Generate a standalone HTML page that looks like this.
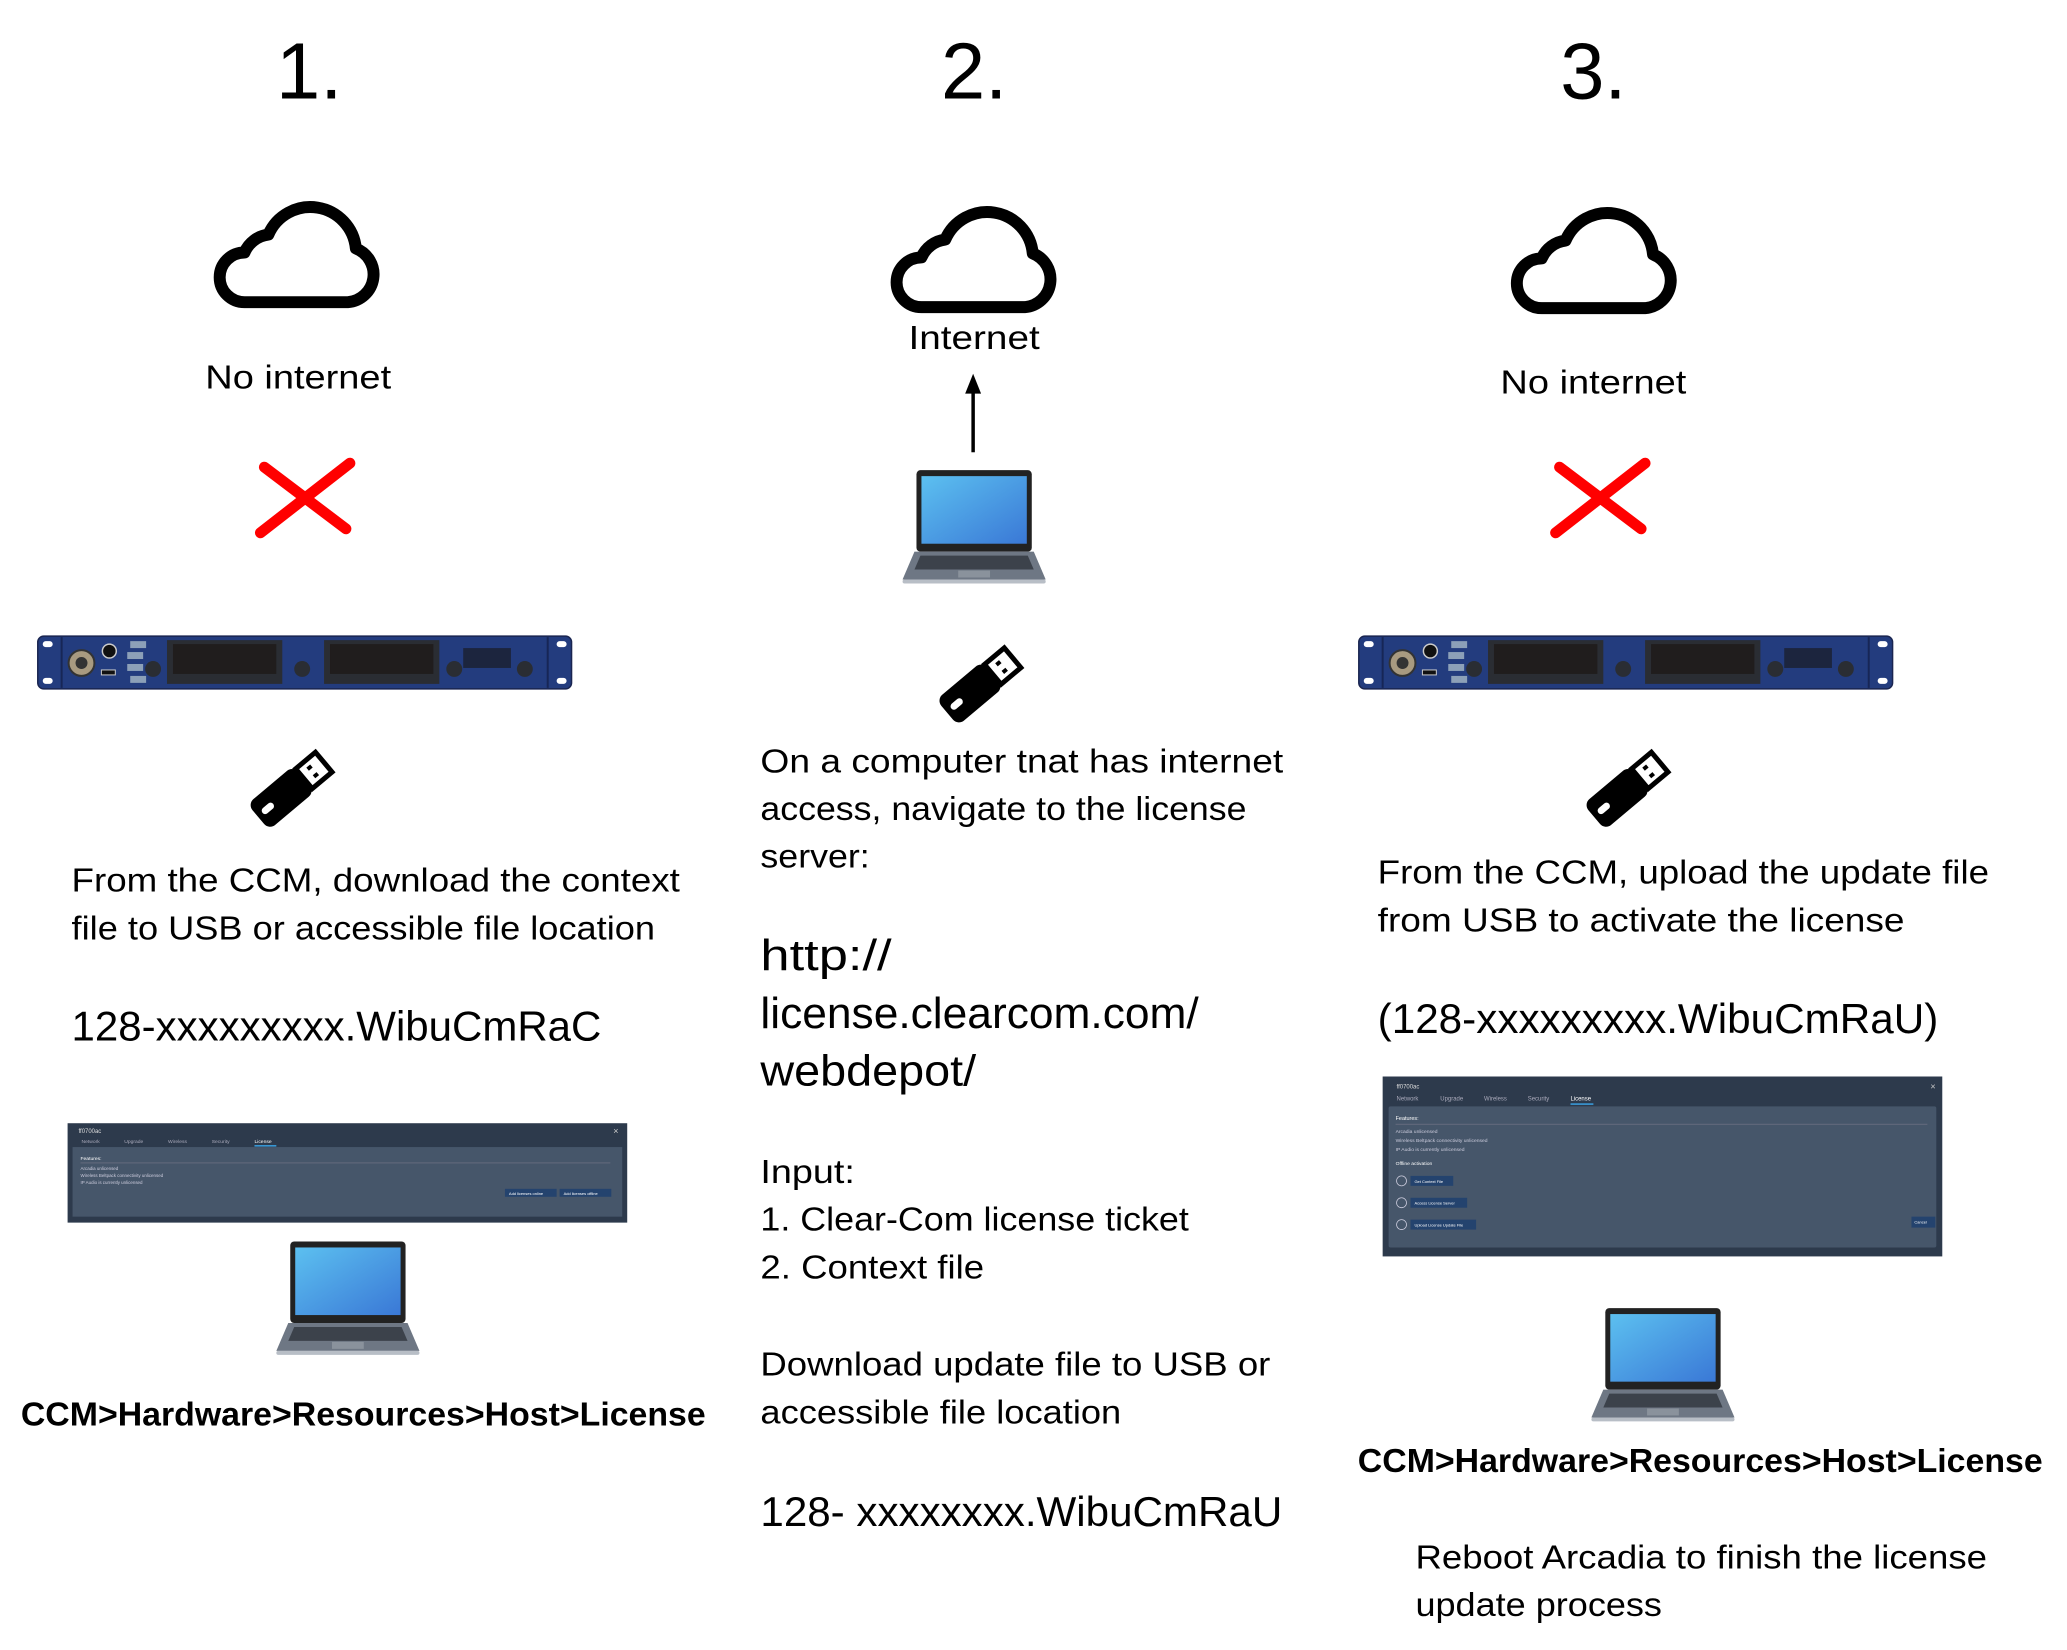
<!DOCTYPE html>
<html><head><meta charset="utf-8"><style>html,body{margin:0;padding:0;background:#fff}svg{display:block}</style></head>
<body>
<svg width="2067" height="1650" viewBox="0 0 2067 1650" xmlns="http://www.w3.org/2000/svg" font-family="'Liberation Sans', sans-serif">
<defs>
<linearGradient id="scr" x1="0" y1="0" x2="1" y2="1"><stop offset="0" stop-color="#5cc0f0"/><stop offset="1" stop-color="#3a78d6"/></linearGradient>
<g id="cloud"><path d="M38,104 H142 A28,28 0 0 0 150,50 A46,46 0 0 0 62,36 A30,30 0 0 0 38,54 A25,25 0 0 0 38,104 Z" fill="none" stroke="#000" stroke-width="12" stroke-linejoin="round"/></g>
<g id="laptop">
<rect x="14" y="0" width="116" height="82" rx="4" fill="#222"/>
<rect x="19" y="6" width="106" height="68" fill="url(#scr)"/>
<polygon points="12,82 132,82 144,110 0,110" fill="#6e7784"/>
<polygon points="18,86 126,86 132,100 12,100" fill="#3c424b"/>
<rect x="56" y="101" width="32" height="7" fill="#8a929c"/>
<rect x="0" y="110" width="144" height="4" rx="2" fill="#b8bec6"/>
</g>
<g id="rack">
<rect x="0" y="0" width="537" height="53" rx="6" fill="#233c7e" stroke="#1a2550" stroke-width="1.5"/>
<line x1="24" y1="1" x2="24" y2="52" stroke="#172656" stroke-width="2"/>
<line x1="513" y1="1" x2="513" y2="52" stroke="#172656" stroke-width="2"/>
<rect x="5" y="5" width="10" height="6" rx="3" fill="#fff"/><rect x="5" y="42" width="10" height="6" rx="3" fill="#fff"/>
<rect x="522" y="5" width="10" height="6" rx="3" fill="#fff"/><rect x="522" y="42" width="10" height="6" rx="3" fill="#fff"/>
<circle cx="44" cy="27" r="13" fill="#a89a80" stroke="#333" stroke-width="2"/><circle cx="44" cy="27" r="6" fill="#333"/>
<circle cx="72" cy="15" r="7" fill="#111" stroke="#ccc" stroke-width="1.5"/>
<rect x="64" y="34" width="14" height="5" fill="#111" stroke="#ccc"/>
<rect x="93" y="5" width="16" height="7" fill="#8ca0b8"/><rect x="90" y="16" width="16" height="7" fill="#8ca0b8"/><rect x="90" y="28" width="16" height="7" fill="#8ca0b8"/><rect x="93" y="40" width="16" height="7" fill="#8ca0b8"/>
<rect x="130" y="4" width="116" height="44" fill="#2a2d33"/><rect x="136" y="8" width="104" height="30" fill="#201d1d"/>
<rect x="288" y="4" width="116" height="44" fill="#2a2d33"/><rect x="294" y="8" width="104" height="30" fill="#201d1d"/>
<circle cx="116" cy="33" r="8" fill="#2a2d33"/><circle cx="266" cy="33" r="8" fill="#2a2d33"/><circle cx="419" cy="33" r="8" fill="#2a2d33"/><circle cx="490" cy="33" r="8" fill="#2a2d33"/>
<rect x="428" y="12" width="48" height="20" fill="#1a1f2e" opacity="0.8"/>
</g>
<g id="usb">
<g transform="translate(43,42) rotate(-40)">
<rect x="-42" y="-17" width="60" height="34" rx="8" fill="#000"/>
<rect x="-36" y="-4" width="14" height="7" rx="3.5" fill="#fff"/>
<rect x="18" y="-13" width="26" height="26" fill="#fff" stroke="#000" stroke-width="5"/>
<rect x="27" y="-7" width="5" height="4" fill="#000"/><rect x="27" y="3" width="5" height="4" fill="#000"/>
</g>
</g>
</defs>
<g transform="scale(0.994)">
<text x="311" y="99" font-size="80" text-anchor="middle">1.</text>
<text x="980" y="99" font-size="80" text-anchor="middle">2.</text>
<text x="1603" y="99" font-size="80" text-anchor="middle">3.</text>

<use href="#cloud" transform="translate(208,200)"/>
<text x="300" y="391" font-size="34" text-anchor="middle" textLength="187" lengthAdjust="spacingAndGlyphs">No internet</text>
<g stroke="#f00" stroke-width="11" stroke-linecap="round"><line x1="266" y1="470" x2="348" y2="532"/><line x1="352" y1="466" x2="262" y2="536"/></g>
<use href="#rack" transform="translate(38,640)"/>
<use href="#usb" transform="translate(249,753)"/>
<text x="72" y="897" font-size="34" textLength="612" lengthAdjust="spacingAndGlyphs">From the CCM, download the context</text>
<text x="72" y="945" font-size="34" textLength="587" lengthAdjust="spacingAndGlyphs">file to USB or accessible file location</text>
<text x="72" y="1047" font-size="42" textLength="533" lengthAdjust="spacingAndGlyphs">128-xxxxxxxxx.WibuCmRaC</text>
<g transform="translate(68,1130)">
<rect width="563" height="100" fill="#2d3a4c"/>
<rect x="5" y="24" width="553" height="70" fill="#46566a"/>
<text x="11" y="10" font-size="6" fill="#ddd">ff0700ac</text>
<g font-size="5" fill="#aab"><text x="14" y="20">Network</text><text x="57" y="20">Upgrade</text><text x="101" y="20">Wireless</text><text x="145" y="20">Security</text><text x="188" y="20" fill="#fff">License</text></g>
<rect x="188" y="22" width="22" height="1.5" fill="#3aa0e0"/>
<text x="13" y="37" font-size="5" fill="#fff">Features:</text>
<line x1="13" y1="40" x2="546" y2="40" stroke="#778" stroke-width="0.6"/>
<g font-size="4.5" fill="#ccd"><text x="13" y="47">Arcadia unlicensed</text><text x="13" y="54">Wireless Beltpack connectivity unlicensed</text><text x="13" y="61">IP Audio is currently unlicensed</text></g>
<rect x="440" y="66" width="52" height="8" fill="#24436e"/><rect x="495" y="66" width="52" height="8" fill="#24436e"/>
<text x="444" y="72" font-size="4" fill="#fff">Add licenses online</text><text x="499" y="72" font-size="4" fill="#fff">Add licenses offline</text>
<text x="549" y="11" font-size="9" fill="#ccc">×</text>
</g>
<use href="#laptop" transform="translate(278,1249)"/>
<text x="21" y="1434" font-size="34" font-weight="bold" textLength="689" lengthAdjust="spacingAndGlyphs">CCM&gt;Hardware&gt;Resources&gt;Host&gt;License</text>

<use href="#cloud" transform="translate(889,205)"/>
<text x="980" y="351" font-size="34" text-anchor="middle" textLength="132" lengthAdjust="spacingAndGlyphs">Internet</text>
<line x1="979" y1="455" x2="979" y2="392" stroke="#000" stroke-width="3.5"/>
<polygon points="979,376 971,396 987,396" fill="#000"/>
<use href="#laptop" transform="translate(908,473)"/>
<use href="#usb" transform="translate(942,648)"/>
<text x="765" y="777" font-size="34" textLength="526" lengthAdjust="spacingAndGlyphs">On a computer tnat has internet</text>
<text x="765" y="825" font-size="34" textLength="489" lengthAdjust="spacingAndGlyphs">access, navigate to the license</text>
<text x="765" y="873" font-size="34" textLength="110" lengthAdjust="spacingAndGlyphs">server:</text>
<text x="765" y="976" font-size="44" textLength="132" lengthAdjust="spacingAndGlyphs">http://</text>
<text x="765" y="1034" font-size="44" textLength="441" lengthAdjust="spacingAndGlyphs">license.clearcom.com/</text>
<text x="765" y="1092" font-size="44" textLength="217" lengthAdjust="spacingAndGlyphs">webdepot/</text>
<text x="765" y="1190" font-size="34" textLength="95" lengthAdjust="spacingAndGlyphs">Input:</text>
<text x="765" y="1238" font-size="34" textLength="431" lengthAdjust="spacingAndGlyphs">1. Clear-Com license ticket</text>
<text x="765" y="1286" font-size="34" textLength="225" lengthAdjust="spacingAndGlyphs">2. Context file</text>
<text x="765" y="1384" font-size="34" textLength="513" lengthAdjust="spacingAndGlyphs">Download update file to USB or</text>
<text x="765" y="1432" font-size="34" textLength="363" lengthAdjust="spacingAndGlyphs">accessible file location</text>
<text x="765" y="1535" font-size="42" textLength="525" lengthAdjust="spacingAndGlyphs">128- xxxxxxxx.WibuCmRaU</text>

<use href="#cloud" transform="translate(1513,206)"/>
<text x="1603" y="396" font-size="34" text-anchor="middle" textLength="187" lengthAdjust="spacingAndGlyphs">No internet</text>
<g stroke="#f00" stroke-width="11" stroke-linecap="round"><line x1="1569" y1="470" x2="1651" y2="532"/><line x1="1655" y1="466" x2="1565" y2="536"/></g>
<use href="#rack" transform="translate(1367,640)"/>
<use href="#usb" transform="translate(1593,753)"/>
<text x="1386" y="889" font-size="34" textLength="615" lengthAdjust="spacingAndGlyphs">From the CCM, upload the update file</text>
<text x="1386" y="937" font-size="34" textLength="530" lengthAdjust="spacingAndGlyphs">from USB to activate the  license</text>
<text x="1386" y="1039" font-size="42" textLength="564" lengthAdjust="spacingAndGlyphs">(128-xxxxxxxxx.WibuCmRaU)</text>
<g transform="translate(1391,1083)">
<rect width="563" height="181" fill="#2d3a4c"/>
<rect x="6" y="30" width="551" height="142" rx="2" fill="#46566a"/>
<text x="14" y="12" font-size="6" fill="#ddd">ff0700ac</text>
<g font-size="6" fill="#aab"><text x="14" y="24">Network</text><text x="58" y="24">Upgrade</text><text x="102" y="24">Wireless</text><text x="146" y="24">Security</text><text x="189" y="24" fill="#fff">License</text></g>
<rect x="189" y="27" width="23" height="1.5" fill="#3aa0e0"/>
<text x="13" y="44" font-size="5.5" fill="#fff">Features:</text>
<line x1="13" y1="48" x2="548" y2="48" stroke="#778" stroke-width="0.6"/>
<g font-size="5" fill="#ccd"><text x="13" y="57">Arcadia unlicensed</text><text x="13" y="66">Wireless Beltpack connectivity unlicensed</text><text x="13" y="75">IP Audio is currently unlicensed</text><text x="13" y="89" fill="#fff">Offline activation</text></g>
<g fill="none" stroke="#ccd" stroke-width="0.8"><circle cx="19" cy="105" r="5"/><circle cx="19" cy="127" r="5"/><circle cx="19" cy="149" r="5"/></g>
<rect x="28" y="100" width="43" height="10" fill="#24436e"/><rect x="28" y="122" width="57" height="10" fill="#24436e"/><rect x="28" y="144" width="66" height="10" fill="#24436e"/>
<g font-size="4" fill="#fff"><text x="32" y="107">Get Context File</text><text x="32" y="129">Access License Server</text><text x="32" y="151">Upload License Update File</text></g>
<rect x="532" y="141" width="24" height="11" fill="#24436e"/><text x="535" y="148" font-size="4" fill="#fff">Cancel</text>
<text x="551" y="13" font-size="9" fill="#ccc">×</text>
</g>
<use href="#laptop" transform="translate(1601,1316)"/>
<text x="1366" y="1481" font-size="34" font-weight="bold" textLength="689" lengthAdjust="spacingAndGlyphs">CCM&gt;Hardware&gt;Resources&gt;Host&gt;License</text>
<text x="1424" y="1578" font-size="34" textLength="575" lengthAdjust="spacingAndGlyphs">Reboot Arcadia to finish the license</text>
<text x="1424" y="1626" font-size="34" textLength="248" lengthAdjust="spacingAndGlyphs">update process</text>
</g>
</svg>
</body></html>
